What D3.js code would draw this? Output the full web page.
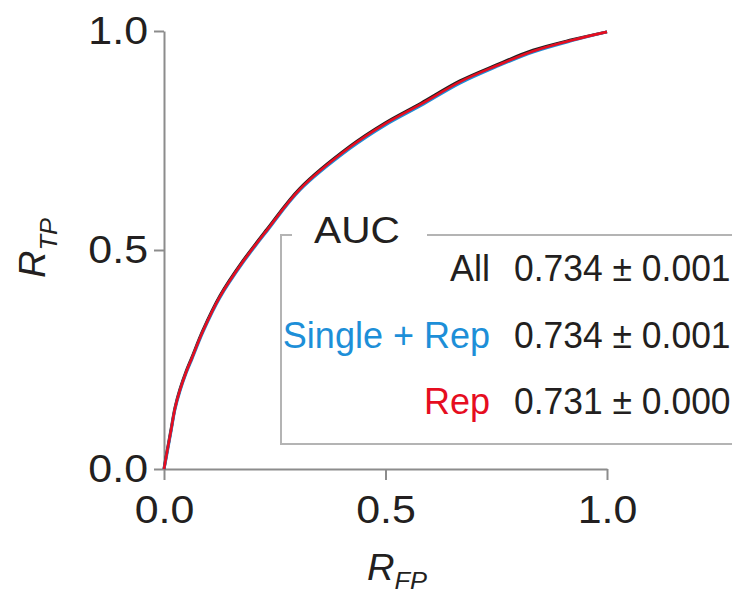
<!DOCTYPE html>
<html>
<head>
<meta charset="utf-8">
<script src="https://cdn.jsdelivr.net/npm/d3@7"></script>
<style>
  html, body { margin: 0; padding: 0; background: #fff; }
  svg { display: block; font-family: "Liberation Sans", Arial, Helvetica, sans-serif; }
</style>
</head>
<body>
<svg id="chart" width="732" height="595"></svg>
<script>
// ---- data ----
const fpr       = [0, 0.0045, 0.009, 0.016, 0.025, 0.036, 0.050, 0.063, 0.088, 0.126, 0.178, 0.233, 0.307, 0.420, 0.499, 0.580, 0.668, 0.749, 0.833, 0.921, 1.0];
const tprAll    = [0, 0.027, 0.052, 0.091, 0.141, 0.182, 0.223, 0.255, 0.317, 0.395, 0.475, 0.548, 0.641, 0.737, 0.790, 0.835, 0.886, 0.922, 0.956, 0.980, 0.998];
const tprSingle = [0, 0.023, 0.048, 0.087, 0.137, 0.178, 0.219, 0.251, 0.313, 0.391, 0.471, 0.544, 0.637, 0.732, 0.785, 0.830, 0.881, 0.918, 0.952, 0.978, 0.998];
const tprRep    = [0, 0.025, 0.050, 0.089, 0.139, 0.180, 0.221, 0.253, 0.315, 0.393, 0.473, 0.546, 0.639, 0.735, 0.788, 0.833, 0.884, 0.920, 0.954, 0.979, 0.998];
const seriesNames = ["All", "Single + Rep", "Rep"];
const aucMean = [0.734, 0.734, 0.731];
const aucSd   = [0.001, 0.001, 0.000];
const xTicks = [0, 0.5, 1.0];
const yTicks = [0, 0.5, 1.0];

const colors = ["#231f20", "#1d8fd8", "#e60d1f"];
const textColors = ["#231f20", "#1d8fd8", "#e60d1f"];
const SX = 1.13; // horizontal text stretch for tick labels / AUC title

const svg = d3.select("#chart");
const x = d3.scaleLinear().domain([0, 1]).range([164, 607]);
const y = d3.scaleLinear().domain([0, 1]).range([469, 31]);
const axisColor = "#8c8c8c";

// ---- axes ----
const gx = svg.append("g").attr("transform", `translate(0,${y(0)})`)
  .call(d3.axisBottom(x).tickValues(xTicks).tickFormat(d3.format(".1f")).tickSize(11).tickSizeOuter(0).tickPadding(16));
const gy = svg.append("g").attr("transform", `translate(${x(0)},0)`)
  .call(d3.axisLeft(y).tickValues(yTicks).tickFormat(d3.format(".1f")).tickSize(10).tickSizeOuter(0).tickPadding(6));

[gx, gy].forEach(g => {
  g.select(".domain").attr("stroke", axisColor).attr("stroke-width", 2);
  g.selectAll(".tick line").attr("stroke", axisColor).attr("stroke-width", 2);
  g.selectAll(".tick text").attr("fill", "#231f20").attr("font-size", 38)
    .attr("font-family", "Liberation Sans, Arial, sans-serif");
});
gx.selectAll(".tick text").attr("transform", `scale(${SX},1)`);
gy.selectAll(".tick text").each(function() {
  const t = d3.select(this);
  t.attr("x", +t.attr("x") / SX).attr("transform", `scale(${SX},1)`);
});

// ---- curves ----
const line = d3.line().x(d => x(d[0])).y(d => y(d[1])).curve(d3.curveCatmullRom.alpha(0.5));
const series = [tprAll, tprSingle, tprRep];
const widths = [3, 3, 2.6];
series.forEach((tpr, i) => {
  svg.append("path")
    .datum(fpr.map((f, k) => [f, tpr[k]]))
    .attr("fill", "none")
    .attr("stroke", colors[i])
    .attr("stroke-width", widths[i])
    .attr("stroke-linejoin", "round")
    .attr("d", line);
});

// ---- legend box ----
const box = svg.append("g");
box.append("path")
  .attr("d", "M292,235 H281 V444 H740 M427,235 H740")
  .attr("fill", "none").attr("stroke", "#b4b4b4").attr("stroke-width", 2);

function stretchedText(g, px, py, str, anchor, size, fill, sx) {
  return g.append("text")
    .attr("transform", `translate(${px},${py}) scale(${sx},1)`)
    .attr("text-anchor", anchor)
    .attr("font-size", size)
    .attr("fill", fill)
    .text(str);
}

stretchedText(box, 314, 243, "AUC", "start", 36, "#231f20", SX);
const rowY = [281, 348, 414];
seriesNames.forEach((n, i) => {
  stretchedText(box, 490, rowY[i], n, "end", 36, textColors[i], 1.0);
  stretchedText(box, 514, rowY[i], `${aucMean[i].toFixed(3)} ± ${aucSd[i].toFixed(3)}`, "start", 36, "#231f20", 0.985);
});

// ---- axis titles ----
const xt = svg.append("text")
  .attr("transform", `translate(367,580) scale(1.06,1)`)
  .attr("fill", "#231f20").attr("font-style", "italic");
xt.append("tspan").attr("font-size", 36).text("R");
xt.append("tspan").attr("font-size", 24).attr("dy", 9).text("FP");

const yt = svg.append("text")
  .attr("transform", `translate(45,278) rotate(-90) scale(1.06,1)`)
  .attr("fill", "#231f20").attr("font-style", "italic");
yt.append("tspan").attr("font-size", 36).text("R");
yt.append("tspan").attr("font-size", 24).attr("dy", 12).text("TP");
</script>
</body>
</html>
